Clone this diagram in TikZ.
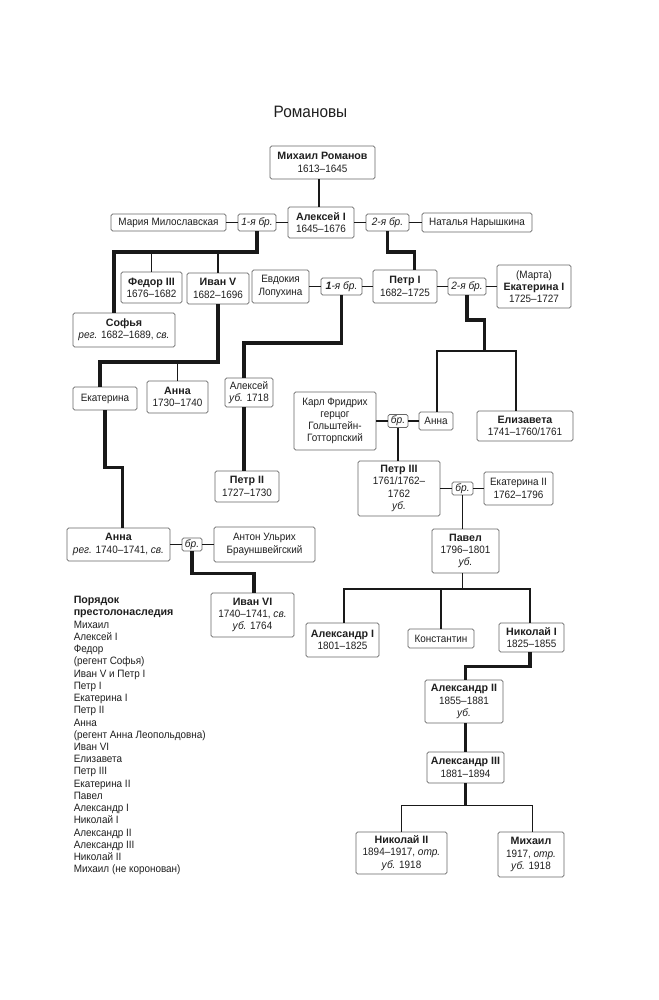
\documentclass[tikz,border=0pt]{standalone}
\usepackage{fontspec}
\setmainfont{Liberation Sans}[UprightFeatures={FakeStretch=0.93}, ItalicFeatures={FakeStretch=0.95}]
\tikzset{
  box/.style={draw=black!60, line width=0.6pt, rounded corners=1.2pt, fill=white,
    align=center, inner sep=0pt, text=black!88, font=\fontsize{8}{9.2}\selectfont},
  ln/.style={draw=black!90, line width=0.95pt},
  lk/.style={draw=black!90, line width=2.3pt},
}
\newcommand\bx[6]{\node[box, minimum width={(#4-#2)*0.75pt}, minimum height={(#5-#3)*0.75pt}] (#1) at ({(#2+#4)/2},{(#3+#5)/2}) {#6};}
\begin{document}
\begin{tikzpicture}[x=0.75pt,y=-0.75pt]
\useasboundingbox[fill=white] (0,0) rectangle (659,1000);
\node[text=black!88, font=\fontsize{12.4}{14}\selectfont] (title) at (310.5,112) {Романовы};
% boxes
\bx{mikh}{270}{146}{375}{179}{\textbf{Михаил Романов}\\1613–1645}
\bx{aleks}{288}{207}{354}{238}{\textbf{Алексей I}\\1645–1676}
\bx{maria}{111}{214}{226}{231}{Мария Милославская}
\bx{br1}{238}{214}{276}{231}{\textit{1-я бр.}}
\bx{br2}{366}{214}{409}{231}{\textit{2-я бр.}}
\bx{natalya}{422}{213}{532}{232}{Наталья Нарышкина}
\bx{fedor}{121}{272}{182}{303}{\textbf{Федор III}\\1676–1682}
\bx{ivan5}{187}{273}{249}{304}{\textbf{Иван V}\\1682–1696}
\bx{evdok}{252}{270}{309}{303}{Евдокия\\Лопухина}
\bx{br3}{321}{278}{362}{295}{\textit{\textbf{1}-я бр.}}
\bx{petr1}{373}{270}{437}{303}{\textbf{Петр I}\\1682–1725}
\bx{br4}{448}{278}{486}{295}{\textit{2-я бр.}}
\bx{ekat1}{497}{265}{571}{308}{(Марта)\\\textbf{Екатерина I}\\1725–1727}
\bx{sofya}{73}{313}{175}{347}{\textbf{Софья}\\\textit{рег.} 1682–1689, \textit{св.}}
\bx{ekaterina}{73}{387}{137}{410}{Екатерина}
\bx{anna1}{147}{381}{208}{413}{\textbf{Анна}\\1730–1740}
\bx{alekseyS}{225}{378}{273}{407}{Алексей\\\textit{уб.} 1718}
\bx{karl}{294}{392}{376}{450}{Карл Фридрих\\герцог\\Гольштейн-\\Готторпский}
\bx{br5}{388}{414.5}{408}{427.5}{\textit{бр.}}
\bx{anna2}{419}{412}{453}{430}{Анна}
\bx{eliz}{477}{411}{573}{441}{\textbf{Елизавета}\\1741–1760/1761}
\bx{petr2}{215}{471}{279}{502}{\textbf{Петр II}\\1727–1730}
\bx{petr3}{358}{461}{440}{516}{\textbf{Петр III}\\1761/1762–\\1762\\\textit{уб.}}
\bx{br6}{452}{482}{473}{495}{\textit{бр.}}
\bx{ekat2}{484}{472}{553}{505}{Екатерина II\\1762–1796}
\bx{pavel}{432}{529}{499}{573}{\textbf{Павел}\\1796–1801\\\textit{уб.}}
\bx{annaL}{67}{528}{170}{561}{\textbf{Анна}\\\textit{рег.} 1740–1741, \textit{св.}}
\bx{br7}{182}{538}{202}{551}{\textit{бр.}}
\bx{anton}{214}{527}{315}{562}{Антон Ульрих\\Брауншвейгский}
\bx{ivan6}{211}{593}{294}{637}{\textbf{Иван VI}\\1740–1741, \textit{св.}\\\textit{уб.} 1764}
\bx{alex1}{306}{623}{379}{657}{\textbf{Александр I}\\1801–1825}
\bx{konst}{408}{629}{474}{648}{Константин}
\bx{nik1}{499}{623}{564}{652}{\textbf{Николай I}\\1825–1855}
\bx{alex2}{425}{680}{503}{723}{\textbf{Александр II}\\1855–1881\\\textit{уб.}}
\bx{alex3}{427}{752}{504}{783}{\textbf{Александр III}\\1881–1894}
\bx{nik2}{356}{832}{447}{874}{\textbf{Николай II}\\1894–1917, \textit{отр.}\\\textit{уб.} 1918}
\bx{mikh2}{498}{832}{564}{877}{\textbf{Михаил}\\1917, \textit{отр.}\\\textit{уб.} 1918}
% legend
\node[anchor=north west, align=left, inner sep=0pt, text=black!88, font=\fontsize{8}{9.18}\selectfont] (legend) at (73.5,596)
 {\textbf{Порядок}\\\textbf{престолонаследия}\\Михаил\\Алексей I\\Федор\\(регент Софья)\\Иван V и Петр I\\Петр I\\Екатерина I\\Петр II\\Анна\\(регент Анна Леопольдовна)\\Иван VI\\Елизавета\\Петр III\\Екатерина II\\Павел\\Александр I\\Николай I\\Александр II\\Александр III\\Николай II\\Михаил (не коронован)};
% guide coordinates
\coordinate (xM) at (319,0);
\coordinate (j1) at (257,252);
\coordinate (j2) at (114,252);
\coordinate (j3) at (414.5,252);
\coordinate (j4) at (100,362);
\coordinate (j5) at (244,343);
\coordinate (j6) at (484.5,320);
\coordinate (j7) at (484.5,351);
\coordinate (j8) at (437,351);
\coordinate (j9) at (516,351);
\coordinate (j10) at (122.7,467.7);
\coordinate (j11) at (254,573.3);
\coordinate (j12) at (462.5,589);
\coordinate (j13) at (344,589);
\coordinate (j14) at (530,589);
\coordinate (j15) at (530,666.7);
\coordinate (j16) at (465.7,666.7);
\coordinate (j17) at (465.7,805.7);
\coordinate (j18) at (401.7,805.7);
\coordinate (j19) at (532.3,805.7);
% thin connectors
\draw[ln] (xM |- mikh.south) -- (xM |- aleks.north);
\draw[ln] (maria) -- (br1) -- (aleks) -- (br2) -- (natalya);
\draw[ln] (evdok) -- (br3) -- (petr1) -- (br4) -- (ekat1);
\draw[ln] (karl) -- (br5) -- (anna2);
\draw[ln] (petr3) -- (br6) -- (ekat2);
\draw[ln] (annaL) -- (br7) -- (anton);
\draw[ln] (fedor.north |- j1) -- (fedor.north);
\draw[ln] (ivan5.north |- j1) -- (ivan5.north);
\draw[ln] (anna1.north |- j4) -- (anna1.north);
\draw[ln] (j8 |- anna2.north) -- (j8) -- (j9) -- (j9 |- eliz.north);
\draw[ln] (br5.south) -- (br5.south |- petr3.north);
\draw[ln] (br6.south) -- (br6.south |- pavel.north);
\draw[ln] (j12 |- pavel.south) -- (j12);
\draw[ln] (j13 |- alex1.north) -- (j13) -- (j14) -- (j14 |- nik1.north);
\draw[ln] (konst.north |- j13) -- (konst.north);
\draw[ln] (j18 |- nik2.north) -- (j18) -- (j19) -- (j19 |- mikh2.north);
% thick connectors
\draw[lk] (br1.south) |- (j2) -- (j2 |- sofya.north);
\draw[lk] (br2.south) |- (j3) -- (j3 |- petr1.north);
\draw[lk] (ivan5.south) |- (j4) -- (j4 |- ekaterina.north);
\draw[lk] (br3.south) |- (j5) -- (j5 |- alekseyS.north);
\draw[lk] (j5 |- alekseyS.south) -- (j5 |- petr2.north);
\draw[lk] (br4.south) |- (j6) -- (j7);
\draw[lk] (ekaterina.south) |- (j10) -- (j10 |- annaL.north);
\draw[lk] (br7.south) |- (j11) -- (j11 |- ivan6.north);
\draw[lk] (j15 |- nik1.south) -- (j15) -- (j16) -- (j16 |- alex2.north);
\draw[lk] (j16 |- alex2.south) -- (j16 |- alex3.north);
\draw[lk] (j16 |- alex3.south) -- (j17);
\end{tikzpicture}
\end{document}
